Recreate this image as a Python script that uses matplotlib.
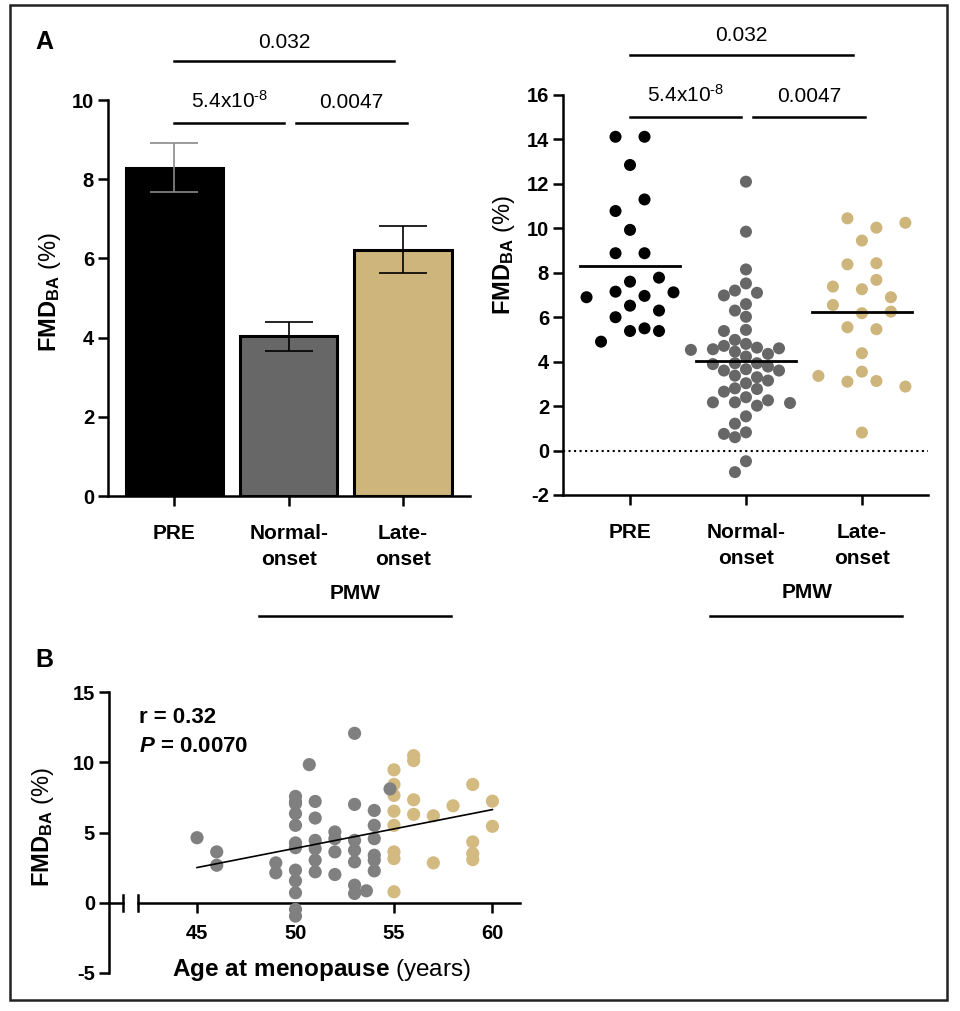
import matplotlib
matplotlib.use("Agg")
import matplotlib.pyplot as plt
import numpy as np

plt.rcParams["font.family"] = ["Liberation Sans", "DejaVu Sans"]
plt.rcParams["mathtext.fontset"] = "custom"
plt.rcParams["mathtext.rm"] = "Liberation Sans"
plt.rcParams["mathtext.bf"] = "Liberation Sans:bold"
plt.rcParams["mathtext.it"] = "Liberation Sans:italic:bold"
plt.rcParams["axes.unicode_minus"] = False

# ---- data ----
groups = ["PRE", "Normal-\nonset", "Late-\nonset"]
bar_mean = [8.29, 4.03, 6.22]
bar_sem = [0.62, 0.36, 0.60]

pre_fmd = [14.12, 14.12, 12.85, 10.78, 11.30, 9.93, 8.88, 8.88, 7.60, 7.78, 6.90,
           7.15, 6.96, 7.12, 6.00, 6.52, 6.30, 4.90, 5.50, 5.38, 5.38]
normal_fmd = [12.10, 9.85, 8.15, 7.52, 7.20, 7.10, 6.98, 6.59, 6.30, 6.02, 5.43, 5.38,
              4.56, 4.80, 4.53, 4.45, 4.63, 4.23, 4.71, 4.98, 4.60, 4.35, 3.89, 3.93,
              3.93, 3.60, 3.78, 3.66, 3.60, 3.30, 3.37, 3.15, 3.03, 2.80, 2.65, 2.77,
              2.17, 2.26, 2.40, 2.14, 2.02, 2.17, 1.54, 1.21, 0.75, 0.82, 0.60, -0.48, -0.97]
late_fmd = [10.45, 10.03, 10.25, 9.45, 8.38, 8.43, 7.68, 7.38, 7.26, 6.90, 6.55, 6.18,
            6.25, 5.55, 5.46, 4.38, 3.36, 3.55, 3.10, 3.13, 2.88, 0.81]

p_labels = ["5.4x10$^{\u20108}$", "0.0047", "0.032"]

age_normal = [45, 46, 46, 49, 49, 50, 50, 50, 50, 50, 50, 50, 50, 50, 50, 50, 50, 50.7,
              51, 51, 51, 51, 51, 51, 52, 52, 52, 52, 53, 53, 53, 53, 53, 53, 53, 53.6,
              54, 54, 54, 54, 54, 54, 54.8]
fmd_normal_b = [4.63, 3.62, 2.67, 2.84, 2.13, 7.57, 7.20, 7.05, 6.34, 5.51, 4.26, 3.92,
                2.32, 1.56, 0.71, -0.47, -0.95, 9.83, 7.21, 6.03, 4.44, 3.85, 3.03, 2.20,
                5.04, 4.56, 3.62, 2.01, 12.06, 7.00, 4.44, 3.74, 2.91, 1.25, 0.66, 0.85,
                6.57, 5.51, 4.56, 3.38, 3.03, 2.27, 8.10]
age_late = [55, 55, 55, 55, 55, 55, 55, 55, 56, 56, 56, 56, 57, 57, 58, 59, 59, 59, 59, 60, 60]
fmd_late_b = [9.46, 8.42, 7.64, 6.52, 5.51, 3.62, 3.14, 0.78, 10.47, 10.12, 7.33, 6.29,
              6.19, 2.84, 6.90, 8.42, 4.33, 3.50, 3.07, 7.23, 5.44]
fit_slope = 0.275
fit_intercept = -9.87

c_black = "#000000"
c_gray = "#676767"
c_tan = "#CDB57B"
c_gray_b = "#808080"
c_tan_b = "#D3BA80"
colors = [c_black, c_gray, c_tan]

W, H = 960, 1011
fig = plt.figure(figsize=(W / 100, H / 100), dpi=100)


def px_axes(x0, y0, x1, y1):
    return fig.add_axes([x0 / W, 1 - y1 / H, (x1 - x0) / W, (y1 - y0) / H])


def style(ax):
    for s in ["top", "right"]:
        ax.spines[s].set_visible(False)
    for s in ["left", "bottom"]:
        ax.spines[s].set_linewidth(1.8)
    ax.tick_params(width=1.8, length=7, labelsize=14.5)


def min_dist(pts, placed):
    if not placed:
        return np.inf
    a = np.asarray(pts)[:, None, :] - np.asarray(placed)[None, :, :]
    return np.sqrt((a ** 2).sum(-1)).min()


def swarm_rows(ax, center, values, spacing, tol_px, dmin_px):
    # Prism-like column scatter: close values share a row, each row is centred,
    # and nudged or spread sideways if it would hit the rows below it
    vals = np.asarray(values, dtype=float)
    ypx = ax.transData.transform(np.column_stack([np.zeros_like(vals), vals]))[:, 1]
    rows = []
    for i in np.argsort(vals, kind="stable"):
        if rows and abs(ypx[i] - ypx[rows[-1][0]]) < tol_px:
            rows[-1].append(i)
        else:
            rows.append([i])
    xs = np.zeros(len(vals))
    placed = []
    for r in rows:
        r = sorted(r)
        n = len(r)
        cands = [(1, 0)] + [(1, k * spacing / 2) for k in (1, -1)]
        cands += ([(3, 0)] if n == 2 else []) + [(1, k * spacing / 2) for k in (2, -2, 3, -3)]
        cands += [(2, 0)]
        best, best_d = None, -1
        for f, sh in cands:
            pos = center + sh + (np.arange(n) - (n - 1) / 2) * spacing * f
            pts = ax.transData.transform(np.column_stack([pos, vals[r]]))
            d = min_dist(pts, placed)
            if d >= dmin_px:
                best = (pos, pts)
                break
            if d > best_d:
                best, best_d = (pos, pts), d
        xs[r] = best[0]
        placed.extend(list(best[1]))
    return xs


def swarm_points(ax, center, values, step, dmin_px):
    # plain beeswarm for the crowded column
    vals = np.asarray(values, dtype=float)
    xs = np.full(len(vals), float(center))
    placed = []
    for i in np.argsort(-vals):
        for k in [0, -1, 1, -2, 2, -3, 3, -4, 4, -5, 5, -6, 6]:
            cand = center + k * step
            p = ax.transData.transform((cand, vals[i]))
            if min_dist([p], placed) >= dmin_px:
                break
        xs[i] = cand
        placed.append(p)
    return xs


def sig(ax, x0, x1, y, text, ty):
    ax.plot([x0, x1], [y, y], color="k", lw=1.8, clip_on=False)
    ax.text((x0 + x1) / 2, ty, text, ha="center", va="baseline", fontsize=15, clip_on=False)


def set_ylab(ax, xpos, ypos=0.5):
    ax.set_ylabel(r"$\mathbf{FMD}_{\mathbf{BA}}$ (%)", fontsize=17, va="center")
    ax.yaxis.set_label_coords(xpos, ypos)


x = np.arange(len(groups))

# ---- A left: bars ----
ax1 = px_axes(108, 100, 470, 496)
style(ax1)
ax1.bar(x, bar_mean, width=0.85, color=colors, edgecolor="black", linewidth=2.2, zorder=2)
for i in range(3):
    ax1.errorbar(x[i], bar_mean[i], yerr=bar_sem[i], color="#8a8a8a" if i == 0 else "k",
                 capsize=17, elinewidth=1.2, capthick=1.2, zorder=3)
ax1.set_xlim(-0.58, 2.585)
ax1.set_ylim(0, 10)
ax1.set_yticks(range(0, 11, 2), [str(v) for v in range(0, 11, 2)], fontweight="bold")
ax1.set_xticks(x, groups, fontweight="bold", fontsize=15, linespacing=1.5)
ax1.tick_params(axis="x", pad=13)
ax1.tick_params(axis="y", pad=3)
set_ylab(ax1, -0.16, 0.515)
sig(ax1, 0, 0.96, 9.42, p_labels[0], 9.8)
sig(ax1, 1.06, 2.03, 9.42, p_labels[1], 9.8)
sig(ax1, 0, 1.92, 10.98, p_labels[2], 11.31)
ax1.text(1.58, -2.45, "PMW", ha="center", va="center", fontsize=15, fontweight="bold",
         clip_on=False)
ax1.plot([0.74, 2.42], [-3.03, -3.03], color="k", lw=1.8, clip_on=False)

# ---- A right: scatter ----
ax2 = px_axes(563, 95, 928, 495)
style(ax2)
ax2.set_xlim(-0.578, 2.57)
ax2.set_ylim(-2, 16)
ax2.axhline(0, color="k", ls=":", lw=1.5, zorder=1)
for i, vals in enumerate([pre_fmd, normal_fmd, late_fmd]):
    if i == 1:
        xs = swarm_points(ax2, x[i], vals, 0.095, 11.5)
    else:
        xs = swarm_rows(ax2, x[i], vals, 0.25, 12, 13)
    ax2.scatter(xs, vals, s=75, color=colors[i], edgecolors="none", zorder=3)
    m = np.mean(vals)
    ax2.plot([x[i] - 0.43, x[i] + 0.43], [m, m], color="k", lw=2, zorder=4)
ax2.set_yticks(range(-2, 17, 2), [str(v) for v in range(-2, 17, 2)], fontweight="bold")
ax2.set_xticks(x, groups, fontweight="bold", fontsize=15, linespacing=1.5)
ax2.tick_params(axis="x", pad=13)
ax2.tick_params(axis="y", pad=3)
set_ylab(ax2, -0.162, 0.6)
sig(ax2, 0, 0.96, 15.03, p_labels[0], 15.7)
sig(ax2, 1.06, 2.03, 15.03, p_labels[1], 15.7)
sig(ax2, 0, 1.92, 17.82, p_labels[2], 18.45)
ax2.text(1.53, -6.41, "PMW", ha="center", va="center", fontsize=15, fontweight="bold",
         clip_on=False)
ax2.plot([0.69, 2.35], [-7.45, -7.45], color="k", lw=1.8, clip_on=False)

# ---- B: correlation ----
ax3 = px_axes(109, 692, 520, 973)
style(ax3)
ax3.set_xlim(40.53, 61.4)
ax3.set_ylim(-5, 15)
ax3.spines["bottom"].set_position(("data", 0))
ax3.spines["bottom"].set_bounds(42.0, 61.4)
ax3.plot([40.53, 41.24], [0, 0], color="k", lw=1.8, clip_on=False)
for bx in [41.24, 42.0]:
    ax3.plot([bx, bx], [-0.56, 0.56], color="k", lw=1.8, clip_on=False)
ax3.scatter(age_late, fmd_late_b, s=90, color=c_tan_b, edgecolors="none", zorder=3)
ax3.scatter(age_normal, fmd_normal_b, s=90, color=c_gray_b, edgecolors="none", zorder=3)
fx = np.array([45, 60])
ax3.plot(fx, fit_intercept + fit_slope * fx, color="k", lw=1.2, zorder=4)
ax3.set_xticks([45, 50, 55, 60], ["45", "50", "55", "60"], fontweight="bold")
ax3.set_yticks(range(-5, 16, 5), [str(v) for v in range(-5, 16, 5)], fontweight="bold")
ax3.tick_params(axis="x", pad=8)
ax3.tick_params(axis="y", pad=3)
set_ylab(ax3, -0.161, 0.52)
ax3.set_xlabel(r"$\mathbf{Age\ at\ menopause}$ (years)", fontsize=17.5, va="center")
ax3.xaxis.set_label_coords(0.516, 0.011)
ax3.text(42.05, 12.8, "r = 0.32", fontsize=16, fontweight="bold", va="baseline")
ax3.text(42.05, 10.73, r"$\it{P}$ = 0.0070", fontsize=16, fontweight="bold", va="baseline")

# panel letters and frame
fig.text(44 / W, 1 - 42 / H, "A", fontsize=18, fontweight="bold", ha="center", va="center")
fig.text(44 / W, 1 - 660 / H, "B", fontsize=18, fontweight="bold", ha="center", va="center")
fig.add_artist(plt.Rectangle((10 / W, 1 - 1000 / H), 937 / W, 995 / H,
                             transform=fig.transFigure, fill=False, lw=1.8, ec="#222222"))

fig.savefig("out.png", dpi=100)
